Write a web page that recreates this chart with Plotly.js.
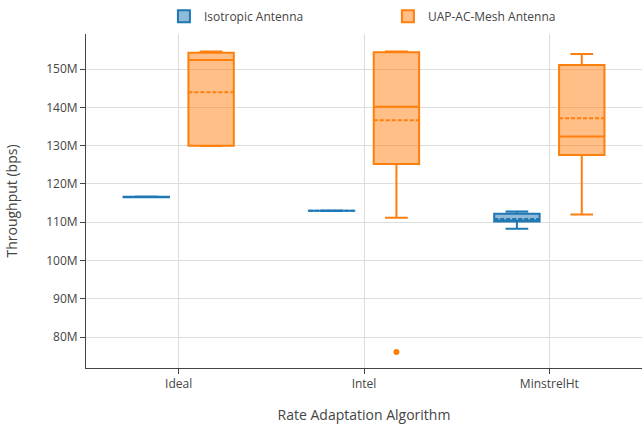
<!DOCTYPE html>
<html>
<head>
<meta charset="utf-8">
<script src="https://cdn.plot.ly/plotly-3.0.1.min.js"></script>
<style>html,body{margin:0;padding:0;background:#fff;}#chart{width:642px;height:424px;}</style>
</head>
<body>
<div id="chart"></div>
<script>
// Categories
const algorithms = ["Ideal", "Intel", "MinstrelHt"];

// Samples per algorithm (values in Mbps, converted below)
const isoIdeal = [116.5, 116.55, 116.6, 116.65, 116.7];
const isoIntel = [112.95, 112.98, 113.0, 113.02, 113.05];
const isoMinstrel = [108.3, 109.75, 110.2, 110.2, 110.2, 111.6, 112.2, 112.4, 112.8];

const uapIdeal = [129.9, 130.0, 130.0, 137.3, 152.4, 153.0, 154.3, 154.5, 154.6];
const uapIntel = [76.1, 111.15, 124.0, 125.25, 137.0, 138.9, 140.2, 153.0, 153.0, 154.4, 154.5, 154.5, 154.6];
const uapMinstrel = [112.0, 125.5, 127.6, 131.0, 132.4, 148.0, 151.1, 153.0, 154.0];

const seriesNames = ["Isotropic Antenna", "UAP-AC-Mesh Antenna"];
const seriesColors = ["#1f77b4", "#ff7f0e"];

function build(groups) {
  const xs = [], ys = [];
  groups.forEach((vals, i) => {
    vals.forEach(v => { xs.push(algorithms[i]); ys.push(v * 1e6); });
  });
  return {xs, ys};
}

const iso = build([isoIdeal, isoIntel, isoMinstrel]);
const uap = build([uapIdeal, uapIntel, uapMinstrel]);

const traces = [iso, uap].map((d, k) => ({
  type: "box",
  name: seriesNames[k],
  x: d.xs,
  y: d.ys,
  boxmean: true,
  boxpoints: "outliers",
  quartilemethod: "inclusive",
  marker: {color: seriesColors[k], size: 6},
  line: {color: seriesColors[k], width: 2}
}));

const layout = {
  width: 642,
  height: 424,
  margin: {l: 86, r: 0, t: 34, b: 56},
  paper_bgcolor: "#fff",
  plot_bgcolor: "#fff",
  font: {family: "Open Sans, sans-serif", size: 12, color: "#444"},
  boxmode: "group",
  showlegend: true,
  legend: {orientation: "h", x: 0.543, xanchor: "center", y: 1.01, yanchor: "bottom",
           entrywidth: 179, font: {size: 12}},
  xaxis: {
    type: "category",
    range: [-0.5, 2.5],
    showgrid: true, gridcolor: "#dddddd",
    showline: true, linecolor: "#444", linewidth: 1,
    ticks: "outside", ticklen: 5, tickcolor: "#444",
    title: {text: "Rate Adaptation Algorithm", font: {size: 14}}
  },
  yaxis: {
    range: [71.9e6, 159.2e6],
    tick0: 0, dtick: 10e6,
    showgrid: true, gridcolor: "#dddddd",
    showline: true, linecolor: "#444", linewidth: 1,
    ticks: "outside", ticklen: 5, tickcolor: "#444",
    zeroline: false,
    title: {text: "Throughput (bps)", font: {size: 14}, standoff: 25}
  }
};

Plotly.newPlot("chart", traces, layout, {displayModeBar: false, staticPlot: true});
</script>
</body>
</html>
